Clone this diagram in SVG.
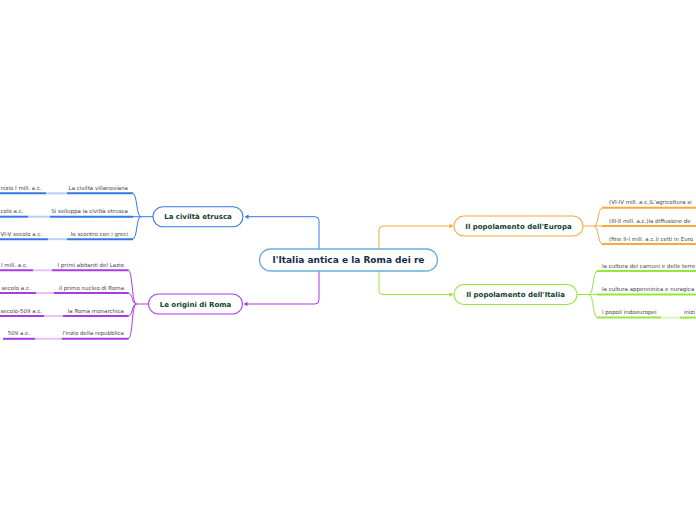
<svg xmlns="http://www.w3.org/2000/svg" width="696" height="520" viewBox="0 0 696 520">
<style>
.node{fill:#fff;stroke-width:1.1}
.nt{font-family:"DejaVu Sans",Verdana,sans-serif;font-weight:bold;font-size:7px;fill:#123f30;text-anchor:middle}
.ct{font-family:"DejaVu Sans",Verdana,sans-serif;font-size:5.5px;fill:#444}
.end{text-anchor:end}
.ln{fill:none;stroke-width:1}
.ul{fill:none;stroke-width:2}
.b{stroke:#3578e5}.bp{stroke:#b9d0f7}
.p{stroke:#a93ae8}.pp{stroke:#e6c2f7}
.o{stroke:#f7a93b}
.g{stroke:#96e640}.gp{stroke:#d8f6b8}
</style>
<rect width="696" height="520" fill="#fff"/>
<g id="connectors">
  <path class="ln b" d="M319,249 V220.7 Q319,216.7 315,216.7 H248"/>
  <polygon points="244.5,216.7 248.5,214.5 248.5,218.9" fill="#3578e5"/>
  <path class="ln p" d="M319,271 V300 Q319,304 315,304 H247"/>
  <polygon points="243.5,304 247.5,301.8 247.5,306.2" fill="#a93ae8"/>
  <path class="ln o" d="M379,249 V230 Q379,226 383,226 H450"/>
  <polygon points="453.5,226 449.5,223.8 449.5,228.2" fill="#f7a93b"/>
  <path class="ln g" d="M379,271 V290.5 Q379,294.5 383,294.5 H450"/>
  <polygon points="453.5,294.5 449.5,292.3 449.5,296.7" fill="#96e640"/>

  <path class="ln b" d="M153,216.7 H141"/>
  <path class="ln b" d="M141,216.7 C136,216.7 137.5,193.3 132.5,193.3"/>
  <path class="ln b" d="M141,216.7 H132.5"/>
  <path class="ln b" d="M141,216.7 C136,216.7 137.5,239.2 132.5,239.2"/>
  <path class="ul b" d="M67,193.3 H133"/>
  <path class="ul bp" d="M46,193.3 H67"/>
  <path class="ul b" d="M0,193.3 H46"/>
  <path class="ul b" d="M50,216.7 H133"/>
  <path class="ul bp" d="M28,216.7 H50"/>
  <path class="ul b" d="M0,216.7 H28"/>
  <path class="ul b" d="M67,239.2 H133"/>
  <path class="ul bp" d="M48,239.2 H67"/>
  <path class="ul b" d="M0,239.2 H48"/>

  <path class="ln p" d="M148.5,304 H136.5"/>
  <path class="ln p" d="M136.5,304 C131.5,304 133,270.3 128,270.3"/>
  <path class="ln p" d="M136.5,304 C131.5,304 133,293 128,293"/>
  <path class="ln p" d="M136.5,304 C131.5,304 133,316 128,316"/>
  <path class="ln p" d="M136.5,304 C131.5,304 133,338.8 128,338.8"/>
  <path class="ul p" d="M52,270.3 H128.5"/>
  <path class="ul pp" d="M33,270.3 H52"/>
  <path class="ul p" d="M0,270.3 H33"/>
  <path class="ul p" d="M54,293 H128.5"/>
  <path class="ul pp" d="M36,293 H54"/>
  <path class="ul p" d="M0,293 H36"/>
  <path class="ul p" d="M63,316 H128.5"/>
  <path class="ul pp" d="M44,316 H63"/>
  <path class="ul p" d="M0,316 H44"/>
  <path class="ul p" d="M62,338.8 H128.5"/>
  <path class="ul pp" d="M35,338.8 H62"/>
  <path class="ul p" d="M3,338.8 H35"/>

  <path class="ln o" d="M583,226 H594"/>
  <path class="ln o" d="M594,226 C599,226 597.5,207.8 602.5,207.8"/>
  <path class="ln o" d="M594,226 H602.5"/>
  <path class="ln o" d="M594,226 C599,226 597.5,244 602.5,244"/>
  <path class="ul o" d="M602,207.8 H696"/>
  <path class="ul o" d="M602,226 H696"/>
  <path class="ul o" d="M602,244 H696"/>

  <path class="ln g" d="M577,294.5 H589"/>
  <path class="ln g" d="M589,294.5 C594,294.5 592.5,271 597.5,271"/>
  <path class="ln g" d="M589,294.5 H597.5"/>
  <path class="ln g" d="M589,294.5 C594,294.5 592.5,317.6 597.5,317.6"/>
  <path class="ul g" d="M597,271 H696"/>
  <path class="ul g" d="M597,294.5 H696"/>
  <path class="ul g" d="M597,317.6 H661"/>
  <path class="ul gp" d="M661,317.6 H680"/>
  <path class="ul g" d="M680,317.6 H696"/>
</g>

<g id="center">
  <rect x="259.5" y="249" width="178" height="22" rx="11" fill="#fff" stroke="#6aaee0" stroke-width="1.3"/>
  <text x="348.5" y="263.2" font-family="'DejaVu Sans',Verdana,sans-serif" font-weight="bold" font-size="9" fill="#1b2a4e" text-anchor="middle">l'Italia antica e la Roma dei re</text>
</g>

<g id="node-etrusca">
  <rect class="node b" x="153" y="206.7" width="90" height="20" rx="10"/>
  <text class="nt" x="198" y="219.2">La civiltà etrusca</text>
</g>
<g id="node-origini">
  <rect class="node p" x="148.5" y="294" width="94" height="20" rx="10"/>
  <text class="nt" x="195.5" y="306.5">Le origini di Roma</text>
</g>
<g id="node-europa">
  <rect class="node o" x="454" y="216" width="129" height="20" rx="10"/>
  <text class="nt" x="518.5" y="228.5">Il popolamento dell'Europa</text>
</g>
<g id="node-italia">
  <rect class="node g" x="454" y="284.5" width="123" height="20" rx="10"/>
  <text class="nt" x="515.5" y="297">Il popolamento dell'Italia</text>
</g>

<g id="etrusca-children">
  <text class="ct end" x="128" y="189.8">La civiltà villanoviana</text>
  <text class="ct" x="0.5" y="189.8">nizio I mill. a.c.</text>
  <text class="ct end" x="128" y="213.2">Si sviluppa la civiltà etrusca</text>
  <text class="ct" x="0.5" y="213.2">colo a.c.</text>
  <text class="ct end" x="128" y="235.7">lo scontro con i greci</text>
  <text class="ct" x="0.5" y="235.7">VI-V secolo a.c.</text>
</g>
<g id="origini-children">
  <text class="ct end" x="124" y="266.8">I primi abitanti del Lazio</text>
  <text class="ct" x="1" y="266.8">I mill. a.c.</text>
  <text class="ct end" x="124" y="289.5">il primo nucleo di Roma</text>
  <text class="ct" x="1.5" y="289.5">secolo a.c.</text>
  <text class="ct end" x="124" y="312.5">la Roma monarchica</text>
  <text class="ct" x="0.5" y="312.5">secolo-509 a.c.</text>
  <text class="ct end" x="124" y="335.3">l'inzio della repubblica</text>
  <text class="ct end" x="30" y="335.3">509 a.c.</text>
</g>
<g id="europa-children">
  <text class="ct" x="609" y="204.3">(VI-IV mill. a.c.)L'agricoltura si</text>
  <text class="ct" x="609" y="222.5">(III-II mill. a.c.)la diffusione de</text>
  <text class="ct" x="609" y="240.5">(fine II-I mill. a.c.)i celti in Euro</text>
</g>
<g id="italia-children">
  <text class="ct" x="602" y="267.5">la cultura dei camuni e delle terre</text>
  <text class="ct" x="602" y="291">la cultura appenninica e nuragica</text>
  <text class="ct" x="602" y="314.1">i popoli indoeuropei</text>
  <text class="ct" x="684" y="314.1">inizi</text>
</g>
</svg>
